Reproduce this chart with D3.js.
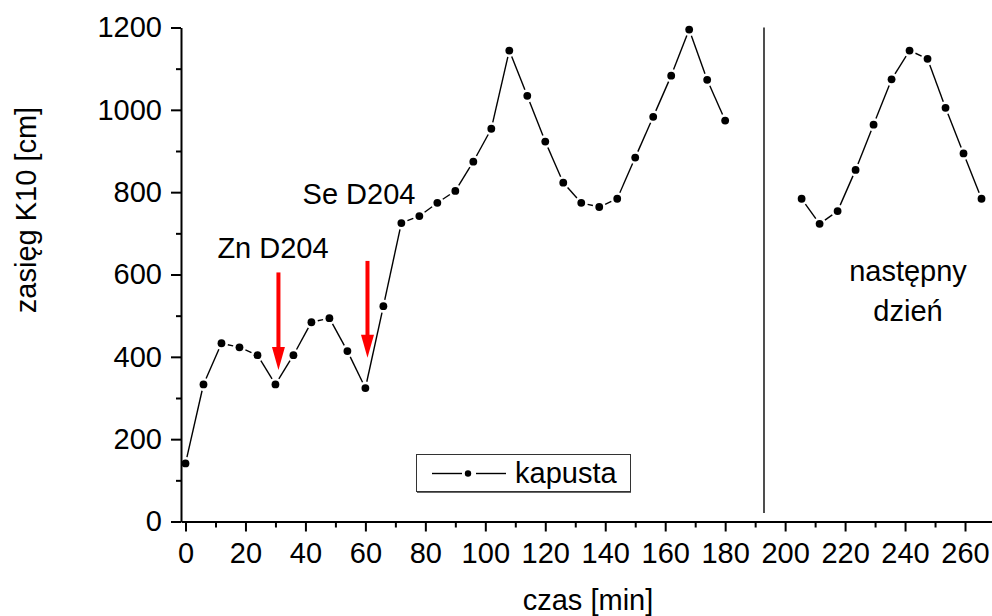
<!doctype html>
<html>
<head>
<meta charset="UTF-8">
<title>zasieg K10</title>
<script src="https://d3js.org/d3.v7.min.js"></script>
<style>
	body { margin: 0; background: white; }
	svg text { font-family: "Liberation Sans", Arial, sans-serif; fill: black; }
	.axis path, .axis line { stroke: black; }
	.axis path { stroke-width: 2px; }
	.axis line { stroke-width: 2px; }
</style>
</head>
<body>
<script>

// dzień 1 - czas [min] i zasięg [cm]
var time1 = [0, 6, 12, 18, 24, 30, 36, 42, 48, 54, 60, 66, 72, 78, 84, 90, 96, 102, 108, 114,
             120, 126, 132, 138, 144, 150, 156, 162, 168, 174, 180];
var range1 = [141, 333, 433, 423, 404, 333, 404, 484, 494, 414, 324, 523, 725, 742, 774, 803, 874, 954, 1144, 1034,
              923, 823, 774, 764, 784, 884, 983, 1083, 1195, 1073, 974];

// następny dzień
var time2 = [205.5, 211.5, 217.5, 223.5, 229.5, 235.5, 241.5, 247.5, 253.5, 259.5, 265.5];
var range2 = [784, 723, 754, 854, 964, 1074, 1144, 1124, 1005, 894, 784];

var xTicks = [0, 20, 40, 60, 80, 100, 120, 140, 160, 180, 200, 220, 240, 260];
var yTicks = [0, 200, 400, 600, 800, 1000, 1200];

// strzałki: x, od, do
var arrowX = [31, 60.7];
var arrowFrom = [605, 633];
var arrowTo = [368, 398];

var width = 992, height = 616;

var svg = d3.select("body").append("svg")
	.attr("width", width)
	.attr("height", height);

var x = d3.scaleLinear().domain([-1.5, 269]).range([181, 992]);
var y = d3.scaleLinear().domain([0, 1200]).range([521.5, 27.5]);

// minor ticks first
svg.append("g")
	.attr("class", "axis")
	.attr("transform", "translate(0," + y(0) + ")")
	.call(d3.axisBottom(x).tickValues(d3.range(10, 269, 20)).tickSize(6).tickSizeOuter(0).tickFormat(""))
	.select(".domain").remove();

svg.append("g")
	.attr("class", "axis")
	.attr("transform", "translate(" + x(-1.5) + ",0)")
	.call(d3.axisLeft(y).tickValues(d3.range(100, 1200, 200)).tickSize(5).tickSizeOuter(0).tickFormat(""))
	.select(".domain").remove();

var xAxis = svg.append("g")
	.attr("class", "axis")
	.attr("transform", "translate(0," + y(0) + ")")
	.call(d3.axisBottom(x).tickValues(xTicks).tickSize(10).tickSizeOuter(0).tickPadding(11).tickFormat(d3.format("d")));
xAxis.selectAll("text").style("font-size", "29px");

var yAxis = svg.append("g")
	.attr("class", "axis")
	.attr("transform", "translate(" + x(-1.5) + ",0)")
	.call(d3.axisLeft(y).tickValues(yTicks).tickSize(10).tickSizeOuter(0).tickPadding(9).tickFormat(d3.format("d")));
yAxis.selectAll("text").style("font-size", "29px");

svg.selectAll(".axis text").attr("font-family", null);

// axis titles
svg.append("text")
	.attr("x", 588)
	.attr("y", 610)
	.attr("text-anchor", "middle")
	.style("font-size", "29px")
	.text("czas [min]");

svg.append("text")
	.attr("transform", "translate(36,210) rotate(-90)")
	.attr("text-anchor", "middle")
	.style("font-size", "29px")
	.text("zasięg K10 [cm]");

// separator między dniami
svg.append("line")
	.attr("x1", 764).attr("x2", 764)
	.attr("y1", y(1200)).attr("y2", 513)
	.attr("stroke", "#222")
	.attr("stroke-width", 1.6);

// lines with gaps around the markers
var gap = 6.5;
function drawSeries(times, vals) {
	var pts = times.map(function(t, i) { return [x(t), y(vals[i])]; });
	var segs = [];
	for (var i = 0; i < pts.length - 1; i++) {
		var a = pts[i], b = pts[i + 1];
		var dx = b[0] - a[0], dy = b[1] - a[1];
		var len = Math.sqrt(dx * dx + dy * dy);
		if (len > 2 * gap) {
			var ux = dx / len, uy = dy / len;
			segs.push([a[0] + ux * gap, a[1] + uy * gap, b[0] - ux * gap, b[1] - uy * gap]);
		}
	}
	svg.append("g").selectAll("line")
		.data(segs)
		.enter()
		.append("line")
			.attr("x1", function(d) { return d[0]; })
			.attr("y1", function(d) { return d[1]; })
			.attr("x2", function(d) { return d[2]; })
			.attr("y2", function(d) { return d[3]; })
			.attr("stroke", "black")
			.attr("stroke-width", 1.4);

	svg.append("g").selectAll("circle")
		.data(pts)
		.enter()
		.append("circle")
			.attr("cx", function(d) { return d[0]; })
			.attr("cy", function(d) { return d[1]; })
			.attr("r", 3.9)
			.attr("fill", "black");
}
drawSeries(time1, range1);
drawSeries(time2, range2);

// red arrows
arrowX.forEach(function(ax, i) {
	var cx = x(ax), top = y(arrowFrom[i]), tip = y(arrowTo[i]);
	var headLen = 23, headW = 6.5, shaftW = 2;
	svg.append("rect")
		.attr("x", cx - shaftW)
		.attr("y", top)
		.attr("width", shaftW * 2)
		.attr("height", tip - headLen - top + 1)
		.attr("fill", "red");
	svg.append("path")
		.attr("d", "M" + (cx - headW) + "," + (tip - headLen) + "L" + (cx + headW) + "," + (tip - headLen) + "L" + cx + "," + tip + "Z")
		.attr("fill", "red");
});

// annotations
svg.append("text").attr("x", 273).attr("y", 258).attr("text-anchor", "middle")
	.style("font-size", "29px").text("Zn D204");
svg.append("text").attr("x", 359).attr("y", 204).attr("text-anchor", "middle")
	.style("font-size", "29px").text("Se D204");
svg.append("text").attr("x", 908).attr("y", 281).attr("text-anchor", "middle")
	.style("font-size", "29px").text("następny");
svg.append("text").attr("x", 908).attr("y", 321).attr("text-anchor", "middle")
	.style("font-size", "29px").text("dzień");

// legend
var lg = svg.append("g");
lg.append("rect")
	.attr("x", 416.5).attr("y", 454.5)
	.attr("width", 214).attr("height", 37)
	.attr("fill", "white")
	.attr("stroke", "#333")
	.attr("stroke-width", 1);
lg.append("line").attr("x1", 417).attr("x2", 631).attr("y1", 492).attr("y2", 492)
	.attr("stroke", "#333").attr("stroke-width", 1.5);
lg.append("line").attr("x1", 432).attr("x2", 462).attr("y1", 473.5).attr("y2", 473.5)
	.attr("stroke", "black").attr("stroke-width", 1.4);
lg.append("line").attr("x1", 476).attr("x2", 506).attr("y1", 473.5).attr("y2", 473.5)
	.attr("stroke", "black").attr("stroke-width", 1.4);
lg.append("circle").attr("cx", 468).attr("cy", 473.5).attr("r", 3.2).attr("fill", "black");
lg.append("text").attr("x", 515).attr("y", 483).style("font-size", "29px").text("kapusta");

</script>
</body>
</html>
